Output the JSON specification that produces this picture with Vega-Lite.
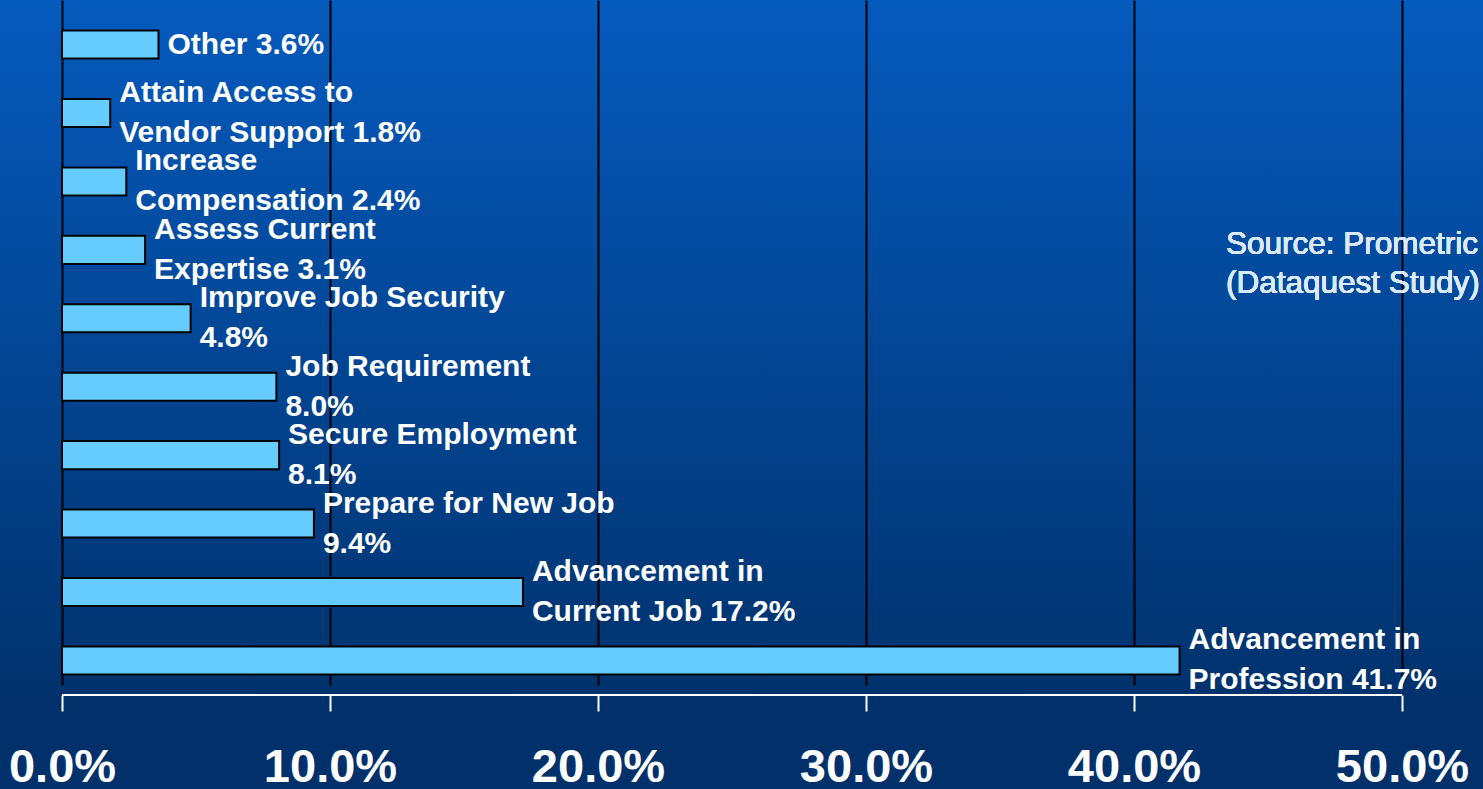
{
  "$schema": "https://vega.github.io/schema/vega-lite/v6.json",
  "width": 1483,
  "height": 695,
  "autosize": {"type": "none"},
  "padding": {"left": 0, "top": 0, "right": 0, "bottom": 94},
  "background": "#01306a",
  "config": {
    "view": {"stroke": null, "fill": {"gradient": "linear", "x1": 0, "y1": 0, "x2": 0, "y2": 1, "stops": [{"offset": 0, "color": "#055abd"}, {"offset": 1, "color": "#01326d"}]}},
    "font": "Liberation Sans"
  },
  "data": {"values": [
    {"cat": "Other", "pct": 3.6, "label": "Other 3.6%"},
    {"cat": "Attain", "pct": 1.8, "label": "Attain Access to\nVendor Support 1.8%"},
    {"cat": "Increase", "pct": 2.4, "label": "Increase\nCompensation 2.4%"},
    {"cat": "Assess", "pct": 3.1, "label": "Assess Current\nExpertise 3.1%"},
    {"cat": "Improve", "pct": 4.8, "label": "Improve Job Security\n4.8%"},
    {"cat": "JobReq", "pct": 8.0, "label": "Job Requirement\n8.0%"},
    {"cat": "Secure", "pct": 8.1, "label": "Secure Employment\n8.1%"},
    {"cat": "Prepare", "pct": 9.4, "label": "Prepare for New Job\n9.4%"},
    {"cat": "AdvCurrent", "pct": 17.2, "label": "Advancement in\nCurrent Job 17.2%"},
    {"cat": "AdvProf", "pct": 41.7, "label": "Advancement in\nProfession 41.7%"}
  ]},
  "resolve": {"scale": {"y": "independent"}},
  "encoding": {
    "x": {"field": "pct", "type": "quantitative", "scale": {"domain": [-2.3134, 53.0224], "nice": false, "zero": false},
      "axis": {"values": [0, 10, 20, 30, 40, 50], "title": null, "grid": true, "gridColor": "#000000", "gridWidth": 2, "gridOpacity": 1,
        "domain": false, "tickColor": "#ffffff", "tickWidth": 2, "tickSize": 16,
        "labelColor": "#ffffff", "labelFont": "Liberation Sans", "labelFontSize": 47, "labelFontWeight": "bold", "labelPadding": 33,
        "labelExpr": "format(datum.value, '.1f') + '%'", "labelOverlap": false, "labelFlush": false, "labelBound": false}}
  },
  "layer": [
    {"layer": [
      {"mark": {"type": "bar", "fill": "#66ccff", "stroke": "#000000", "strokeWidth": 2}},
      {"transform": [{"filter": "indexof(datum.label, '\\n') < 0"}],
       "mark": {"type": "text", "align": "left", "baseline": "middle", "dx": 9, "fontSize": 30, "fontWeight": "bold", "color": "#ffffff", "font": "Liberation Sans"},
       "encoding": {"text": {"field": "label"}}},
      {"transform": [{"filter": "indexof(datum.label, '\\n') >= 0"}],
       "mark": {"type": "text", "align": "left", "baseline": "middle", "dx": 9, "dy": -20, "lineBreak": "\n", "lineHeight": 40, "fontSize": 30, "fontWeight": "bold", "color": "#ffffff", "font": "Liberation Sans"},
       "encoding": {"text": {"field": "label"}}},
      {"mark": {"type": "text", "align": "left", "baseline": "middle", "dy": -5, "lineBreak": "\n", "lineHeight": 39, "fontSize": 31.5, "color": "#dce9f7", "font": "Liberation Sans"},
       "encoding": {"x": {"datum": 43.43}, "y": {"datum": "Assess"}, "text": {"value": "Source: Prometric\n(Dataquest Study)"}}}
     ],
     "encoding": {"y": {"field": "cat", "type": "nominal", "sort": null, "axis": null, "scale": {"paddingInner": 0.59, "paddingOuter": 0.3, "range": [10, 695]}}}
    },
    {"mark": {"type": "rule", "color": "#ffffff", "strokeWidth": 2},
     "encoding": {"x": {"datum": 0}, "x2": {"datum": 50}, "y": {"datum": 0, "type": "quantitative", "axis": null, "scale": {"domain": [0, 1]}}}}
  ]
}
